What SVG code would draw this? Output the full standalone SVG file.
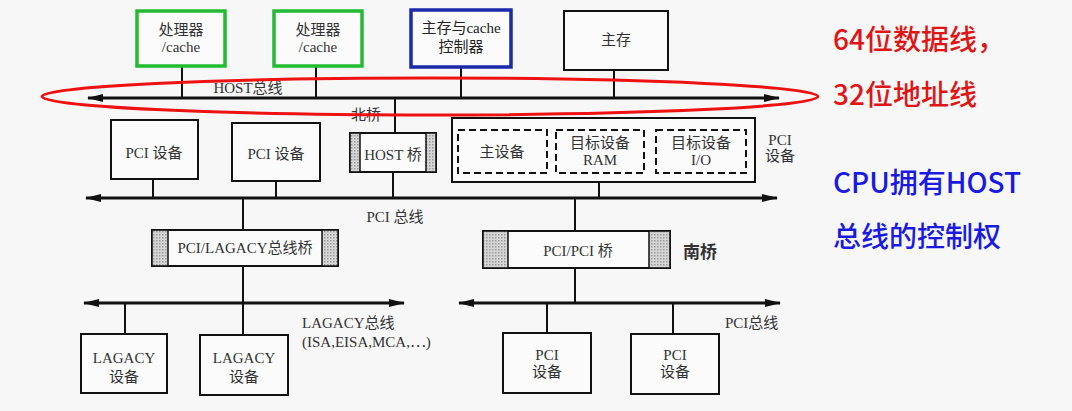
<svg xmlns="http://www.w3.org/2000/svg" width="1072" height="411" viewBox="0 0 1072 411">
<style>
.box{fill:#fbfbfb;stroke:#111;stroke-width:2}
.dash{fill:none;stroke:#111;stroke-width:2;stroke-dasharray:7 4}
.t{font-family:"Liberation Serif","Noto Sans CJK SC",serif;font-size:15px;fill:#333;text-anchor:middle;dominant-baseline:central}
.tl{font-family:"Liberation Serif","Noto Sans CJK SC",serif;font-size:15px;fill:#333;dominant-baseline:central}
.bus{stroke:#111;stroke-width:3;fill:none}
.ln{stroke:#111;stroke-width:2;fill:none}
.grey{fill:url(#dots);stroke:#111;stroke-width:1.5}
.note{font-family:"Noto Sans CJK SC","Noto Sans",sans-serif;font-size:28px;font-weight:500}
</style>
<defs>
<pattern id="dots" width="3" height="3" patternUnits="userSpaceOnUse">
<rect width="3" height="3" fill="#d6d6d6"/>
<rect width="1.5" height="1.5" fill="#999"/>
</pattern>
<marker id="ah" viewBox="0 0 16 8" refX="15" refY="4" markerWidth="16" markerHeight="8" markerUnits="userSpaceOnUse" orient="auto-start-reverse">
<path d="M0,0 L16,4 L0,8 Z" fill="#111"/>
</marker>
</defs>
<rect width="1072" height="411" fill="#f7f7f7"/>

<g id="connectors">
<line class="bus" x1="88" y1="98" x2="779" y2="98" marker-start="url(#ah)" marker-end="url(#ah)"/>
<line class="ln" x1="182" y1="66" x2="182" y2="98"/>
<line class="ln" x1="316" y1="66" x2="316" y2="98"/>
<line class="ln" x1="461" y1="68" x2="461" y2="98"/>
<line class="ln" x1="614" y1="70" x2="614" y2="98"/>
<line class="ln" x1="395" y1="98" x2="395" y2="133"/>
<line class="bus" x1="86" y1="198" x2="777" y2="198" marker-start="url(#ah)" marker-end="url(#ah)"/>
<line class="ln" x1="153" y1="179" x2="153" y2="198"/>
<line class="ln" x1="276" y1="181" x2="276" y2="198"/>
<line class="ln" x1="393" y1="172" x2="393" y2="198"/>
<line class="ln" x1="599" y1="182" x2="599" y2="198"/>
<line class="ln" x1="243" y1="198" x2="243" y2="230"/>
<line class="ln" x1="575" y1="198" x2="575" y2="231"/>
<line class="bus" x1="84" y1="303" x2="404" y2="303" marker-start="url(#ah)" marker-end="url(#ah)"/>
<line class="ln" x1="243" y1="266" x2="243" y2="335"/>
<line class="ln" x1="125" y1="303" x2="125" y2="334"/>
<line class="bus" x1="459" y1="303" x2="780" y2="303" marker-start="url(#ah)" marker-end="url(#ah)"/>
<line class="ln" x1="575" y1="268" x2="575" y2="303"/>
<line class="ln" x1="547" y1="303" x2="547" y2="333"/>
<line class="ln" x1="673" y1="303" x2="673" y2="334"/>
</g>

<g id="cpu1">
<rect x="137" y="11" width="88" height="55" fill="#fbfbfb" stroke="#22bb33" stroke-width="3.5"/>
<text class="t" x="181" y="30">处理器</text>
<text class="t" x="181" y="47">/cache</text>
</g>
<g id="cpu2">
<rect x="274" y="11" width="88" height="55" fill="#fbfbfb" stroke="#22bb33" stroke-width="3.5"/>
<text class="t" x="318" y="30">处理器</text>
<text class="t" x="318" y="47">/cache</text>
</g>
<g id="memctl">
<rect x="411" y="10" width="100" height="57" fill="#fbfbfb" stroke="#1a2aaa" stroke-width="3.5"/>
<text class="t" x="461" y="28" style="fill:#222">主存与cache</text>
<text class="t" x="461" y="47" style="fill:#222">控制器</text>
</g>
<g id="mem">
<rect class="box" x="564" y="11" width="104" height="59"/>
<text class="t" x="616" y="40">主存</text>
</g>

<text class="t" x="248" y="88">HOST总线</text>
<text class="t" x="366" y="115">北桥</text>

<g id="pcidev1">
<rect class="box" x="111" y="120" width="87" height="59"/>
<text class="t" x="154" y="153">PCI 设备</text>
</g>
<g id="pcidev2">
<rect class="box" x="232" y="123" width="88" height="58"/>
<text class="t" x="276" y="154">PCI 设备</text>
</g>
<g id="hostbridge">
<rect class="box" x="350" y="133" width="86" height="39"/>
<rect class="grey" x="350" y="133" width="10" height="39"/>
<rect class="grey" x="426" y="133" width="10" height="39"/>
<text class="t" x="393" y="155">HOST 桥</text>
</g>
<g id="pcigroup">
<rect class="box" x="452" y="118" width="303" height="64"/>
<rect class="dash" x="458" y="130" width="89" height="43"/>
<rect class="dash" x="556" y="130" width="88" height="43"/>
<rect class="dash" x="656" y="130" width="90" height="43"/>
<text class="t" x="502" y="152">主设备</text>
<text class="t" x="600" y="143">目标设备</text>
<text class="t" x="600" y="160">RAM</text>
<text class="t" x="701" y="143">目标设备</text>
<text class="t" x="701" y="160">I/O</text>
<text class="t" x="780" y="140">PCI</text>
<text class="t" x="780" y="156">设备</text>
</g>
<text class="t" x="395" y="217">PCI 总线</text>

<g id="lagacybridge">
<rect class="box" x="152" y="230" width="186" height="36"/>
<rect class="grey" x="152" y="230" width="16" height="36"/>
<rect class="grey" x="322" y="230" width="16" height="36"/>
<text class="t" x="245" y="248">PCI/LAGACY总线桥</text>
</g>
<g id="pcipcibridge">
<rect class="box" x="483" y="231" width="187" height="37"/>
<rect class="grey" x="483" y="231" width="25" height="37"/>
<rect class="grey" x="649" y="231" width="21" height="37"/>
<text class="t" x="578" y="251">PCI/PCI 桥</text>
</g>
<text class="t" x="700" y="252" style="font-weight:bold;font-size:17px">南桥</text>

<g id="lagacy1">
<rect class="box" x="81" y="334" width="86" height="59"/>
<text class="t" x="124" y="358">LAGACY</text>
<text class="t" x="124" y="377">设备</text>
</g>
<g id="lagacy2">
<rect class="box" x="200" y="335" width="88" height="60"/>
<text class="t" x="244" y="358">LAGACY</text>
<text class="t" x="244" y="377">设备</text>
</g>
<text class="tl" x="302" y="323">LAGACY总线</text>
<text class="tl" x="302" y="342">(ISA,EISA,MCA,⋯)</text>

<g id="pcidev3">
<rect class="box" x="503" y="333" width="88" height="60"/>
<text class="t" x="547" y="355">PCI</text>
<text class="t" x="547" y="372">设备</text>
</g>
<g id="pcidev4">
<rect class="box" x="631" y="334" width="88" height="60"/>
<text class="t" x="675" y="355">PCI</text>
<text class="t" x="675" y="372">设备</text>
</g>
<text class="tl" x="725" y="323">PCI总线</text>

<ellipse cx="430" cy="96.5" rx="388" ry="18.5" fill="none" stroke="#ee1111" stroke-width="3"/>

<text class="note" x="833" y="50" fill="#e01515">64位数据线，</text>
<text class="note" x="833" y="105" fill="#e01515">32位地址线</text>
<text class="note" x="833" y="193" fill="#1a1ae0">CPU拥有HOST</text>
<text class="note" x="833" y="247" fill="#1a1ae0">总线的控制权</text>
</svg>
